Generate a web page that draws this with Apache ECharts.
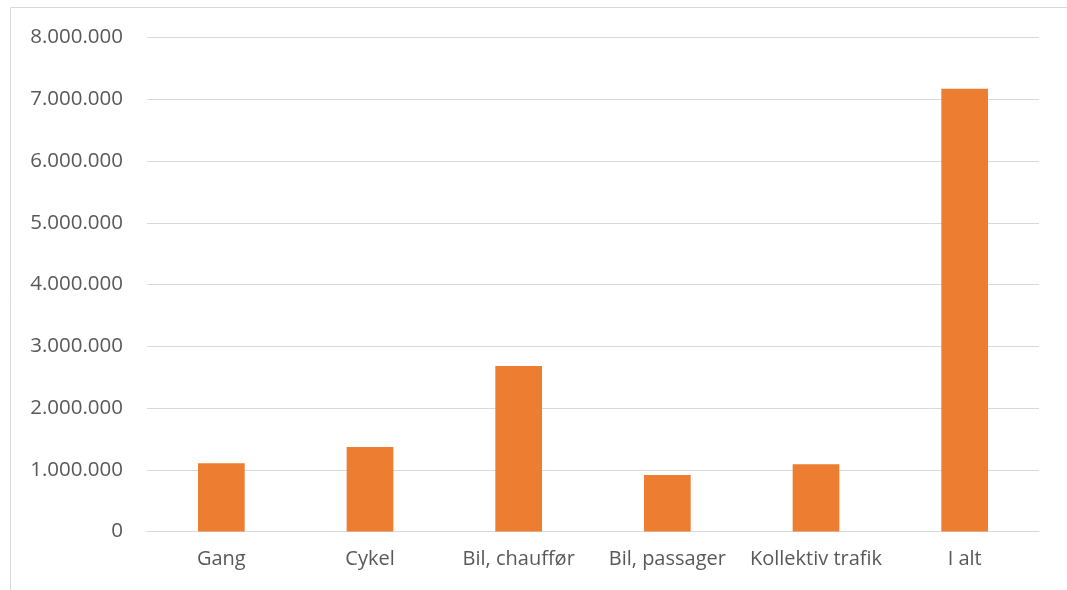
<!DOCTYPE html>
<html>
<head>
<meta charset="utf-8">
<script src="https://cdn.jsdelivr.net/npm/echarts@6/dist/echarts.min.js"></script>
<style>
  html, body { margin: 0; padding: 0; background: #ffffff; }
  #chart { width: 1067px; height: 590px; }
</style>
</head>
<body>
<div id="chart"></div>
<script>
// Trips by mode of transport
const categories = ['Gang', 'Cykel', 'Bil, chauffør', 'Bil, passager', 'Kollektiv trafik', 'I alt'];
const trips = [1105000, 1370000, 2680000, 915000, 1088000, 7170000];
const yTicks = [0, 1000000, 2000000, 3000000, 4000000, 5000000, 6000000, 7000000, 8000000];

const FONT = '"Open Sans", "Liberation Sans", sans-serif';
const TEXT = '#595959';

function fmt(v) {
  return String(v).replace(/\B(?=(\d{3})+(?!\d))/g, '.');
}

const chart = echarts.init(document.getElementById('chart'), null, { renderer: 'canvas' });
chart.setOption({
  animation: false,
  backgroundColor: '#ffffff',
  graphic: [{
    type: 'rect',
    shape: { x: 10.5, y: 7.5, width: 1100, height: 600 },
    style: { fill: 'none', stroke: '#d9d9d9', lineWidth: 1 },
    silent: true
  }],
  grid: { left: 147, right: 28, top: 37.5, bottom: 58.5, containLabel: false },
  xAxis: {
    type: 'category',
    data: categories,
    axisLine: { show: true, lineStyle: { color: '#d9d9d9', width: 1 } },
    axisTick: { show: false },
    axisLabel: {
      color: TEXT, fontFamily: FONT, fontSize: 20, margin: 18,
      interval: 0, hideOverlap: false
    }
  },
  yAxis: {
    type: 'value',
    min: yTicks[0],
    max: yTicks[yTicks.length - 1],
    interval: yTicks[1] - yTicks[0],
    axisLine: { show: false },
    axisTick: { show: false },
    splitLine: { lineStyle: { color: '#d9d9d9', width: 1 } },
    axisLabel: {
      color: TEXT, fontFamily: FONT, fontSize: 20.5, margin: 24,
      formatter: fmt
    }
  },
  series: [{
    type: 'bar',
    data: trips,
    barWidth: '31.4%',
    itemStyle: { color: '#ed7d31' }
  }]
});
</script>
</body>
</html>
